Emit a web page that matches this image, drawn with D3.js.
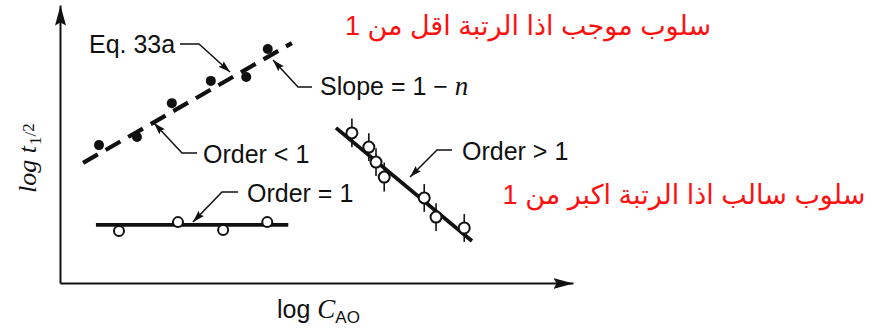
<!DOCTYPE html>
<html>
<head>
<meta charset="utf-8">
<script src="https://cdn.jsdelivr.net/npm/d3@7"></script>
<style>
  html, body { margin: 0; padding: 0; background: #fff; }
  svg { display: block; }
  .lbl { font-family: "Liberation Sans", Arial, sans-serif; font-size: 25px; fill: #111; }
  .ar { font-family: Arial, "Liberation Sans", "DejaVu Sans", sans-serif; font-size: 27px; fill: #ff1010; }
</style>
</head>
<body>
<svg id="chart" width="873" height="331"></svg>
<script>
// Half-life vs. initial concentration on log-log axes (arbitrary units)

// Order < 1: filled points and fitted dashed line (Eq. 33a)
const lowX = [0.76, 1.50, 2.18, 2.94, 3.63, 4.05];
const lowY = [4.96, 5.25, 6.47, 7.27, 7.41, 8.42];
const lowFitX = [0.45, 4.52];
const lowFitY = [4.32, 8.63];

// Order = 1: open points, flat line
const oneX = [1.15, 2.30, 3.18, 4.04];
const oneY = [1.87, 2.19, 1.91, 2.19];
const oneFitX = [0.70, 4.45];
const oneFitY = [2.09, 2.09];

// Order > 1: open points with error bars, falling line
const highX = [5.69, 6.02, 6.16, 6.32, 7.10, 7.33, 7.88];
const highY = [5.40, 4.89, 4.35, 3.81, 3.06, 2.37, 1.98];
const highErr = [0.52, 0.50, 0.50, 0.52, 0.50, 0.50, 0.50];
const highFitX = [5.38, 8.03];
const highFitY = [5.58, 1.51];

const arabicTop = "سلوب موجب اذا الرتبة اقل من 1";
const arabicBottom = "سلوب سالب اذا الرتبة اكبر من 1";

const svg = d3.select("#chart");

const x = d3.scaleLinear().domain([0, 10]).range([60, 573]);
const y = d3.scaleLinear().domain([0, 10]).range([283, 5]);

// arrowheads
const defs = svg.append("defs");
defs.append("marker")
  .attr("id", "axisHead").attr("markerUnits", "userSpaceOnUse")
  .attr("viewBox", "0 -6 20 12").attr("refX", 20).attr("refY", 0)
  .attr("markerWidth", 20).attr("markerHeight", 12).attr("orient", "auto")
  .append("path").attr("d", "M0,-5.5L20,0L0,5.5L3,0Z").attr("fill", "#111");
defs.append("marker")
  .attr("id", "leadHead").attr("markerUnits", "userSpaceOnUse")
  .attr("viewBox", "0 -4 12 8").attr("refX", 12).attr("refY", 0)
  .attr("markerWidth", 12).attr("markerHeight", 8).attr("orient", "auto")
  .append("path").attr("d", "M0,-3.8L12,0L0,3.8L2,0Z").attr("fill", "#111");

// axes without ticks
const xAxis = svg.append("g").attr("transform", `translate(0,${y(0)})`)
  .call(d3.axisBottom(x).tickValues([]).tickSizeOuter(0));
const yAxis = svg.append("g").attr("transform", `translate(${x(0)},0)`)
  .call(d3.axisLeft(y).tickValues([]).tickSizeOuter(0));
[xAxis, yAxis].forEach(g => g.select(".domain")
  .attr("stroke", "#111").attr("stroke-width", 2)
  .attr("marker-end", "url(#axisHead)"));

const line = d3.line().x(d => x(d[0])).y(d => y(d[1]));
const zipPts = (xs, ys) => xs.map((v, i) => [v, ys[i]]);

// fitted lines
svg.append("path").datum(zipPts(lowFitX, lowFitY)).attr("d", line)
  .attr("fill", "none").attr("stroke", "#111").attr("stroke-width", 4.2)
  .attr("stroke-dasharray", "17,9");
svg.append("path").datum(zipPts(oneFitX, oneFitY)).attr("d", line)
  .attr("fill", "none").attr("stroke", "#111").attr("stroke-width", 3.8);
svg.append("path").datum(zipPts(highFitX, highFitY)).attr("d", line)
  .attr("fill", "none").attr("stroke", "#111").attr("stroke-width", 3.8);

// error bars for order > 1
svg.append("g").selectAll("line").data(highX).join("line")
  .attr("x1", d => x(d)).attr("x2", d => x(d))
  .attr("y1", (d, i) => y(highY[i] + highErr[i]))
  .attr("y2", (d, i) => y(highY[i] - highErr[i]))
  .attr("stroke", "#111").attr("stroke-width", 1.6);

// points
svg.append("g").selectAll("circle").data(zipPts(lowX, lowY)).join("circle")
  .attr("cx", d => x(d[0])).attr("cy", d => y(d[1])).attr("r", 5)
  .attr("fill", "#111");
svg.append("g").selectAll("circle").data(zipPts(oneX, oneY)).join("circle")
  .attr("cx", d => x(d[0])).attr("cy", d => y(d[1])).attr("r", 5)
  .attr("fill", "#fff").attr("stroke", "#111").attr("stroke-width", 2);
svg.append("g").selectAll("circle").data(zipPts(highX, highY)).join("circle")
  .attr("cx", d => x(d[0])).attr("cy", d => y(d[1])).attr("r", 5.5)
  .attr("fill", "#fff").attr("stroke", "#111").attr("stroke-width", 2);

// annotations with leader arrows
const leaders = [
  "M180,44 L199,44 L230,72",
  "M312,87 L298,87 L273,60",
  "M197,153 L182,153 L154,123",
  "M452,150 L437,150 L410,177",
  "M238,192 L222,192 L193,222"
];
svg.append("g").selectAll("path").data(leaders).join("path")
  .attr("d", d => d).attr("fill", "none").attr("stroke", "#111")
  .attr("stroke-width", 1.5).attr("marker-end", "url(#leadHead)");

svg.append("text").attr("class", "lbl").attr("x", 89).attr("y", 53).text("Eq. 33a");
svg.append("text").attr("class", "lbl").attr("x", 203).attr("y", 163).text("Order < 1");
svg.append("text").attr("class", "lbl").attr("x", 462).attr("y", 160).text("Order > 1");
svg.append("text").attr("class", "lbl").attr("x", 247).attr("y", 202).text("Order = 1");
const slope = svg.append("text").attr("class", "lbl").attr("x", 320).attr("y", 95);
slope.append("tspan").text("Slope = 1 \u2212 ");
slope.append("tspan").attr("font-family", "Liberation Serif, serif")
  .attr("font-style", "italic").attr("font-size", 27).text("n");

// axis titles
const xt = svg.append("text").attr("class", "lbl").attr("x", 277).attr("y", 318);
xt.append("tspan").text("log ");
xt.append("tspan").attr("font-family", "Liberation Serif, serif")
  .attr("font-style", "italic").attr("font-size", 27).text("C");
xt.append("tspan").attr("font-size", 17).attr("dy", 5).text("AO");

const yt = svg.append("text").attr("transform", "translate(36,193) rotate(-90)")
  .attr("font-family", "Liberation Serif, serif").attr("font-style", "italic")
  .attr("font-size", 26).attr("fill", "#111");
yt.append("tspan").text("log t");
yt.append("tspan").attr("font-size", 17).attr("font-style", "normal").attr("dy", 5).attr("dx", 1).text("1");
yt.append("tspan").attr("font-size", 17).attr("font-style", "normal").attr("dy", -5).text("/");
yt.append("tspan").attr("font-size", 17).attr("font-style", "normal").attr("dy", -2).text("2");

// Arabic notes
svg.append("text").attr("class", "ar").attr("direction", "rtl")
  .attr("text-anchor", "middle").attr("x", 528).attr("y", 35).text(arabicTop);
svg.append("text").attr("class", "ar").attr("direction", "rtl")
  .attr("text-anchor", "middle").attr("x", 684).attr("y", 204).text(arabicBottom);
</script>
</body>
</html>
